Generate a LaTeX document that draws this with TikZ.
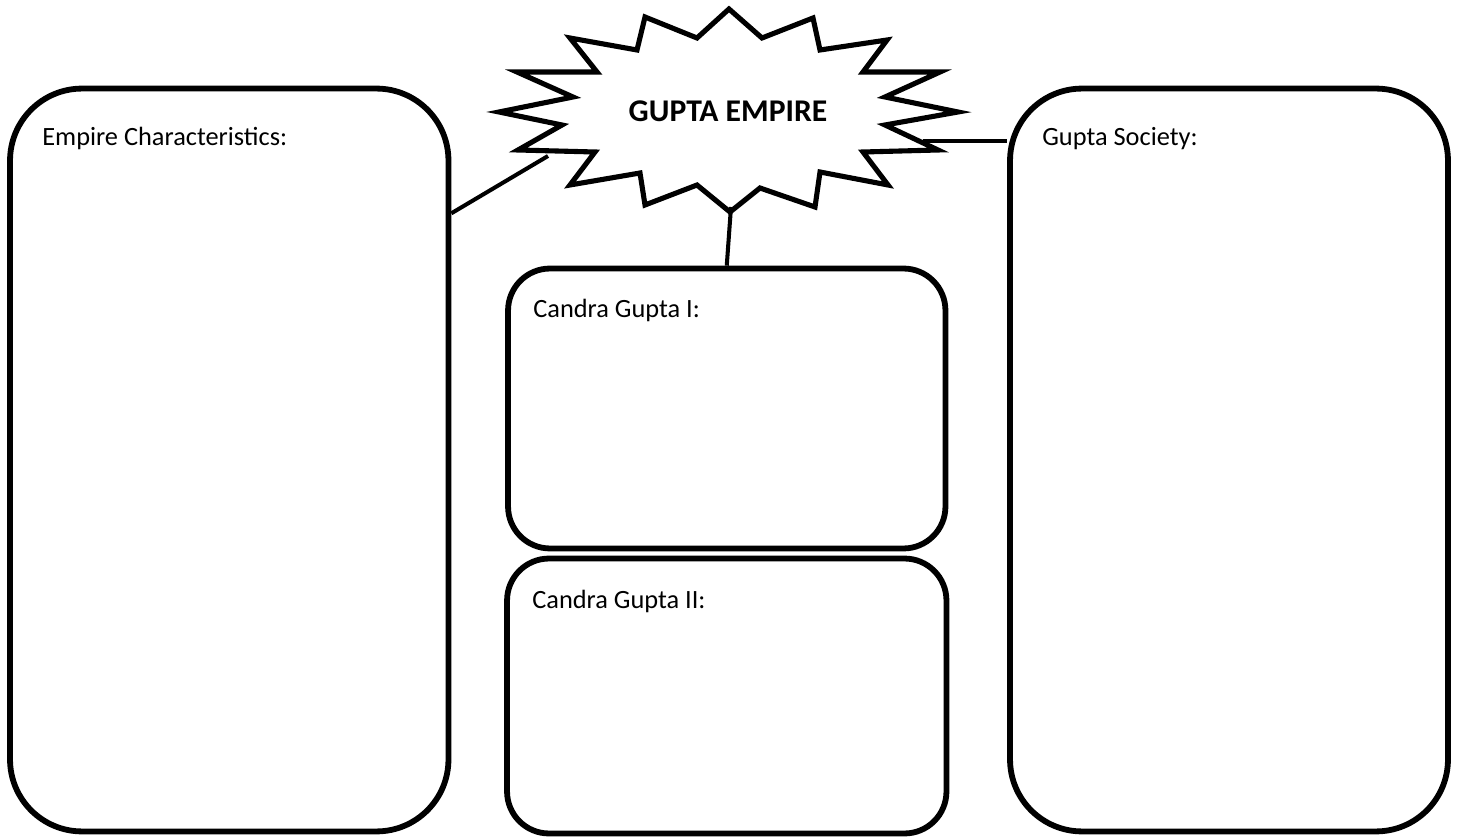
\documentclass[tikz,border=0pt]{standalone}
\usepackage{fontspec}
\setmainfont{Carlito}
\usetikzlibrary{positioning,calc}

\begin{document}
\begin{tikzpicture}[x=0.02cm,y=-0.02cm,
		panel/.style={draw,line width=3.3pt,inner sep=0pt},
		note/.style={anchor=base west,inner sep=0pt,font=\fontsize{15pt}{18pt}\selectfont},
		link/.style={line width=2.3pt}]
		\useasboundingbox (0,0) rectangle (1460,837);
		% the four boxes
		\node[panel,rounded corners=1.44cm,minimum width=8.77cm,minimum height=14.86cm] (chars) at (229.25,460) {};
		\node[panel,rounded corners=1.44cm,minimum width=8.76cm,minimum height=14.86cm] (soc) at (1229,460) {};
		\node[panel,rounded corners=0.84cm,minimum width=8.75cm,minimum height=5.6cm] (cg1) at (726.75,408.5) {};
		\node[panel,rounded corners=0.84cm,minimum width=8.79cm,minimum height=5.5cm] (cg2) at (726.75,696) {};
		\node[note] (t-chars) at (42,146) {Empire Characteristics:};
		\node[note] (t-soc) at (1042,146) {Gupta Society:};
		\node[note] (t-cg1) at (533,318) {Candra Gupta I:};
		\node[note] (t-cg2) at (532,608) {Candra Gupta II:};
		% the star
		\draw[line width=2.9pt,fill=white] (729,9) -- (762,38) -- (813,18) -- (820,50) -- (887,40) -- (863,72)
			-- (940,72) -- (885,97) -- (958,112) -- (885,125) -- (938,150) -- (863,152) -- (888,185)
			-- (820,172) -- (815,207) -- (760,188) -- (730,212) -- (697,185) -- (645,205) -- (640,173)
			-- (570,185) -- (595,152) -- (518,150) -- (562,125) -- (499,112) -- (573,97) -- (517,72)
			-- (597,72) -- (570,38) -- (637,50) -- (645,17) -- (697,38) -- cycle;
		\node[anchor=base,inner sep=0pt,font=\bfseries\fontsize{18pt}{21pt}\selectfont] (title) at (728,122) {GUPTA EMPIRE};
		\coordinate (sl) at (548,156);
		\coordinate (sr) at (923,141);
		\coordinate (sb) at (731,207);
		\draw[link] (chars.48) -- (sl);
		\draw[link] (sr) -- (sr -| soc.west);
		\draw[link] (sb) -- (cg1.north);
	\end{tikzpicture}
\end{document}
